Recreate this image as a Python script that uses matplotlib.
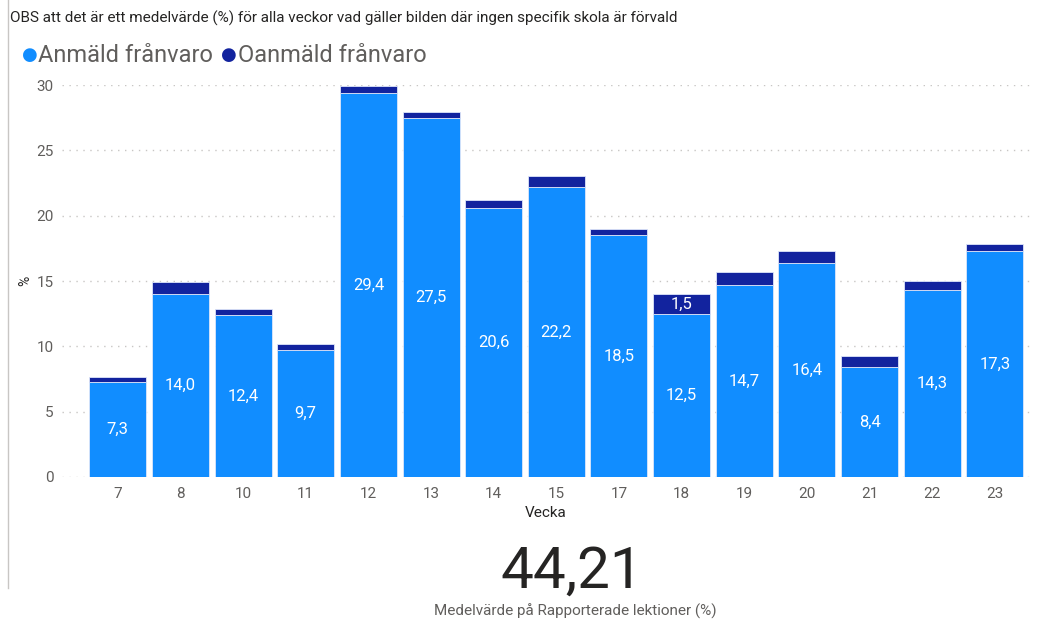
import matplotlib.pyplot as plt
import numpy as np

weeks = ["7", "8", "10", "11", "12", "13", "14", "15", "17", "18", "19", "20", "21", "22", "23"]
anmald = [7.3, 14.0, 12.4, 9.7, 29.4, 27.5, 20.6, 22.2, 18.5, 12.5, 14.7, 16.4, 8.4, 14.3, 17.3]
oanmald = [0.35, 0.9, 0.45, 0.5, 0.5, 0.4, 0.6, 0.8, 0.5, 1.5, 1.0, 0.9, 0.85, 0.7, 0.5]
yticks = [0, 5, 10, 15, 20, 25, 30]
kpi_value = "44,21"

light = "#118DFF"
dark = "#12239E"
grey = "#605E5C"

plt.rcParams['font.family'] = ['Roboto', 'DejaVu Sans']

fig = plt.figure(figsize=(10.52, 6.2), dpi=100)
ax = fig.add_axes([62 / 1052, 1 - 477 / 620, (1030 - 62) / 1052, (477 - 85) / 620])

x = np.arange(len(weeks))
ax.bar(x, anmald, width=0.91, color=light, edgecolor="#DDE6FA", linewidth=0.6)
ax.bar(x, oanmald, width=0.91, bottom=anmald, color=dark, edgecolor="#DDE6FA", linewidth=0.6)

for i in range(len(weeks)):
    ax.text(x[i], anmald[i] / 2, f"{anmald[i]:.1f}".replace(".", ","),
            ha="center", va="center", color="white", fontsize=12)
    if oanmald[i] >= 1.2:
        ax.text(x[i], anmald[i] + oanmald[i] / 2, f"{oanmald[i]:.1f}".replace(".", ","),
                ha="center", va="center", color="white", fontsize=12)

ax.set_xlim(-0.89, 14.56)
ax.set_ylim(0, 30)
ax.set_xticks(x)
ax.set_xticklabels(weeks)
ax.set_yticks(yticks)
ax.tick_params(axis="both", length=0, colors=grey, labelsize=11)
ax.tick_params(axis="x", pad=7)
ax.tick_params(axis="y", pad=6)
ax.yaxis.grid(True, linestyle=(0, (1, 4)), color="#C8C6C4", linewidth=1)
ax.set_axisbelow(True)
for s in ax.spines.values():
    s.set_visible(False)

ax.set_xlabel("Vecka", fontsize=11, color="#252423", labelpad=4)
ax.set_ylabel("%", fontsize=10, color="#252423")
ax.yaxis.set_label_coords(-30 / 968, 0.5)

fig.text(10 / 1052, 1 - 18 / 620,
         "OBS att det är ett medelvärde (%) för alla veckor vad gäller bilden där ingen specifik skola är förvald",
         fontsize=11, color="#252423", va="center", ha="left")

# legend
fig.text(22 / 1052, 1 - 55 / 620, "●", color=light, fontsize=13, va="center", ha="left", family="DejaVu Sans")
fig.text(38 / 1052, 1 - 56 / 620, "Anmäld frånvaro", color=grey, fontsize=17, va="center", ha="left")
fig.text(221 / 1052, 1 - 55 / 620, "●", color=dark, fontsize=13, va="center", ha="left", family="DejaVu Sans")
fig.text(238 / 1052, 1 - 56 / 620, "Oanmäld frånvaro", color=grey, fontsize=17, va="center", ha="left")

# left border line
fig.add_artist(plt.Line2D([8 / 1052, 8 / 1052], [1 - 588 / 620, 1], color="#C8C6C4", linewidth=1))

# KPI card
fig.text(572 / 1052, 1 - 572 / 620, kpi_value, fontsize=42, color="#252423", ha="center", va="center")
fig.text(575 / 1052, 1 - 611 / 620, "Medelvärde på Rapporterade lektioner (%)",
         fontsize=11, color=grey, ha="center", va="center")

fig.savefig("out.png", dpi=100)
